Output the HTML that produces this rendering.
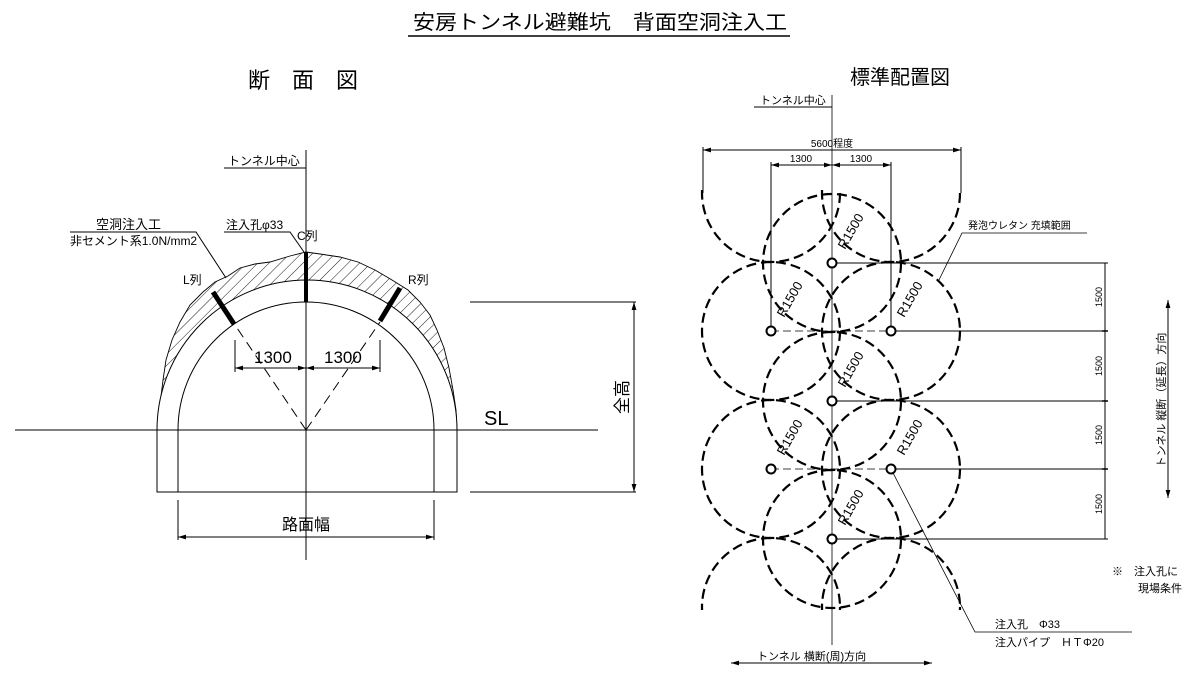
<!DOCTYPE html>
<html><head><meta charset="utf-8"><style>
html,body{margin:0;padding:0;background:#fff;}
svg{display:block;}
text{font-family:"Liberation Sans","Noto Sans CJK JP",sans-serif;fill:#000;}
</style></head><body>
<svg width="1200" height="677" viewBox="0 0 1200 677" xmlns="http://www.w3.org/2000/svg">
<defs>
<pattern id="h" patternUnits="userSpaceOnUse" width="8" height="8" patternTransform="rotate(45)">
<line x1="0" y1="0" x2="0" y2="8" stroke="#000" stroke-width="0.9"/>
</pattern>
<marker id="a" viewBox="0 0 10 6" refX="10" refY="3" markerWidth="8" markerHeight="5" orient="auto-start-reverse"><path d="M0,0 L10,3 L0,6 z" fill="#000"/></marker>
<clipPath id="cr"><rect x="690" y="190" width="300" height="420"/></clipPath>
</defs>

<!-- Title -->
<text x="600" y="29" font-size="20" text-anchor="middle" textLength="374" lengthAdjust="spacingAndGlyphs">安房トンネル避難坑　背面空洞注入工</text>
<line x1="408" y1="36" x2="790" y2="36" stroke="#000" stroke-width="1.6"/>
<text x="303" y="88" font-size="22" text-anchor="middle">断　面　図</text>
<text x="900" y="84" font-size="20" text-anchor="middle">標準配置図</text>

<!-- LEFT: cross section -->
<g fill="none" stroke="#000" stroke-width="1">
<polygon points="159,430 160,405 163,380 166,360 172,340 180,322 190,305 203,292 215,282 228,276 240,268 255,264 270,262 290,256 306,252 320,254 340,257 358,262 375,270 392,280 408,290 420,302 430,315 437,330 444,348 449,368 453,390 456,410 457,430" fill="url(#h)" stroke="#000" stroke-width="0.9"/>
<path d="M157,430 A150,150 0 0 1 457,430 L457,492 L157,492 Z" fill="#fff"/>
<path d="M178,492 L178,430 A128,128 0 0 1 434,430 L434,492"/>
<line x1="15" y1="430" x2="598" y2="430"/>
<line x1="306" y1="150" x2="306" y2="560"/>
<line x1="470" y1="302" x2="636" y2="302"/>
<line x1="470" y1="492" x2="636" y2="492"/>
<line x1="634" y1="302" x2="634" y2="492" marker-start="url(#a)" marker-end="url(#a)"/>
<line x1="178" y1="500" x2="178" y2="540"/>
<line x1="434" y1="500" x2="434" y2="540"/>
<line x1="178" y1="537" x2="434" y2="537" marker-start="url(#a)" marker-end="url(#a)"/>
<line x1="306" y1="430" x2="235" y2="325" stroke-dasharray="10,6"/>
<line x1="306" y1="430" x2="380" y2="322" stroke-dasharray="10,6"/>
<line x1="235" y1="340" x2="235" y2="372"/>
<line x1="380" y1="340" x2="380" y2="372"/>
<line x1="235" y1="368" x2="306" y2="368" marker-start="url(#a)" marker-end="url(#a)"/>
<line x1="306" y1="368" x2="380" y2="368" marker-start="url(#a)" marker-end="url(#a)"/>
<polyline points="224,168 306,168"/>
<polyline points="70,232 196,232 226,278"/>
<polyline points="224,232 290,232 304,252"/>
</g>
<line x1="306" y1="252" x2="306" y2="302" stroke="#000" stroke-width="4"/>
<line x1="213" y1="292" x2="234" y2="324" stroke="#000" stroke-width="5"/>
<line x1="400" y1="288" x2="380" y2="321" stroke="#000" stroke-width="5"/>
<text x="228" y="165" font-size="12">トンネル中心</text>
<text x="96" y="229" font-size="13">空洞注入工</text>
<text x="70" y="245" font-size="12">非セメント系1.0N/mm2</text>
<text x="226" y="229" font-size="12">注入孔φ33</text>
<text x="297" y="240" font-size="12">C列</text>
<text x="183" y="284" font-size="12">L列</text>
<text x="408" y="284" font-size="12">R列</text>
<text x="254" y="363" font-size="17">1300</text>
<text x="324" y="363" font-size="17">1300</text>
<text x="484" y="425" font-size="20">SL</text>
<text transform="translate(628,397) rotate(-90)" font-size="17" text-anchor="middle">全高</text>
<text x="306" y="530" font-size="16" text-anchor="middle">路面幅</text>

<!-- RIGHT: layout -->
<g fill="none" stroke="#000" stroke-width="1">
<line x1="832" y1="95" x2="832" y2="645" stroke-width="0.8"/>
<polyline points="754,107 832,107"/>
<line x1="703" y1="150" x2="961" y2="150" marker-start="url(#a)" marker-end="url(#a)"/>
<line x1="771" y1="165" x2="832" y2="165" marker-start="url(#a)" marker-end="url(#a)"/>
<line x1="832" y1="165" x2="891" y2="165" marker-start="url(#a)" marker-end="url(#a)"/>
<line x1="703" y1="147" x2="703" y2="193"/>
<line x1="961" y1="147" x2="961" y2="193"/>
<line x1="771" y1="162" x2="771" y2="331"/>
<line x1="891" y1="162" x2="891" y2="331"/>
<line x1="832" y1="263" x2="1108" y2="263" stroke-width="0.9"/>
<line x1="891" y1="331" x2="1108" y2="331" stroke-width="0.9"/>
<line x1="832" y1="401" x2="1108" y2="401" stroke-width="0.9"/>
<line x1="891" y1="469" x2="1108" y2="469" stroke-width="0.9"/>
<line x1="832" y1="539" x2="1108" y2="539" stroke-width="0.9"/>
<line x1="771" y1="331" x2="891" y2="331" stroke-dasharray="8,4" stroke-width="0.7"/>
<line x1="771" y1="469" x2="891" y2="469" stroke-dasharray="8,4" stroke-width="0.7"/>
<line x1="1105" y1="263" x2="1105" y2="539"/>
<g stroke-width="1.5"><line x1="1102" y1="331" x2="1108" y2="331"/><line x1="1102" y1="401" x2="1108" y2="401"/><line x1="1102" y1="469" x2="1108" y2="469"/></g>
<line x1="1168" y1="300" x2="1168" y2="498" marker-start="url(#a)" marker-end="url(#a)"/>
<line x1="731" y1="663" x2="932" y2="663" marker-start="url(#a)" marker-end="url(#a)"/>
<polyline points="1087,233 962,233 938,282" stroke-width="0.8"/>
<polyline points="891,469 975,632 1132,632" stroke-width="0.8"/>
</g>
<g clip-path="url(#cr)" fill="none" stroke="#000" stroke-width="2.2" stroke-dasharray="10,5">
<circle cx="771" cy="193" r="69"/><circle cx="891" cy="193" r="69"/>
<circle cx="832" cy="263" r="69"/>
<circle cx="771" cy="331" r="69"/><circle cx="891" cy="331" r="69"/>
<circle cx="832" cy="401" r="69"/>
<circle cx="771" cy="469" r="69"/><circle cx="891" cy="469" r="69"/>
<circle cx="832" cy="539" r="69"/>
<circle cx="771" cy="607" r="69"/><circle cx="891" cy="607" r="69"/>
</g>
<g fill="#fff" stroke="#000" stroke-width="2">
<circle cx="832" cy="263" r="4.5"/><circle cx="771" cy="331" r="4.5"/><circle cx="891" cy="331" r="4.5"/>
<circle cx="832" cy="401" r="4.5"/><circle cx="771" cy="469" r="4.5"/><circle cx="891" cy="469" r="4.5"/>
<circle cx="832" cy="539" r="4.5"/>
</g>
<g font-size="13">
<text transform="translate(845,250) rotate(-60)">R1500</text>
<text transform="translate(784,318) rotate(-60)">R1500</text>
<text transform="translate(904,318) rotate(-60)">R1500</text>
<text transform="translate(845,388) rotate(-60)">R1500</text>
<text transform="translate(784,456) rotate(-60)">R1500</text>
<text transform="translate(904,456) rotate(-60)">R1500</text>
<text transform="translate(845,526) rotate(-60)">R1500</text>
</g>
<text x="760" y="104" font-size="11">トンネル中心</text>
<text x="832" y="147" font-size="10" text-anchor="middle">5600程度</text>
<text x="801" y="162" font-size="10" text-anchor="middle">1300</text>
<text x="861" y="162" font-size="10" text-anchor="middle">1300</text>
<text x="968" y="229" font-size="10">発泡ウレタン 充填範囲</text>
<g font-size="9">
<text transform="translate(1102,297) rotate(-90)" text-anchor="middle">1500</text>
<text transform="translate(1102,366) rotate(-90)" text-anchor="middle">1500</text>
<text transform="translate(1102,435) rotate(-90)" text-anchor="middle">1500</text>
<text transform="translate(1102,504) rotate(-90)" text-anchor="middle">1500</text>
</g>
<text transform="translate(1165,400) rotate(-90)" font-size="11" text-anchor="middle">トンネル 縦断（延長）方向</text>
<text x="1112" y="575" font-size="11">※　注入孔に</text>
<text x="1138" y="592" font-size="11">現場条件</text>
<text x="995" y="628" font-size="11">注入孔　Φ33</text>
<text x="995" y="646" font-size="11">注入パイプ　ＨＴΦ20</text>
<text x="757" y="660" font-size="11">トンネル 横断(周)方向</text>
</svg>
</body></html>
